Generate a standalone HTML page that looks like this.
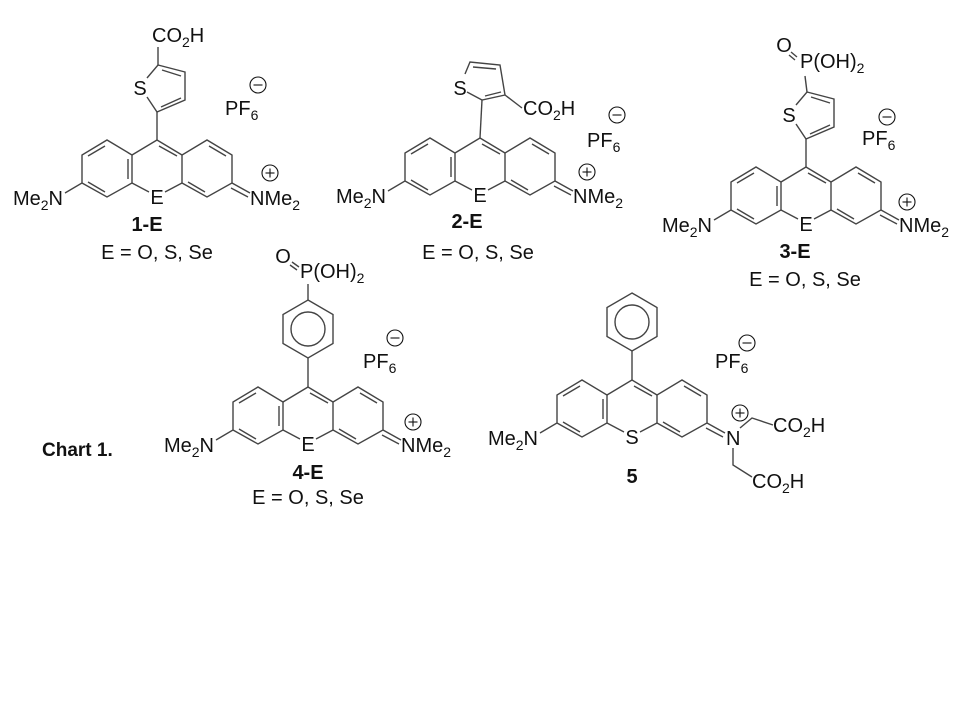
<!DOCTYPE html>
<html><head><meta charset="utf-8"><style>
html,body{margin:0;padding:0;background:#fff;}
svg{display:block;}
text{font-family:"Liberation Sans",Arial,sans-serif;font-size:20px;fill:#111;}
.b{font-weight:bold;}
.s{font-size:14px;}
line,polyline,polygon,circle.r{stroke:#444;stroke-width:1.4;fill:none;}
circle.c{stroke:#111;stroke-width:1.1;fill:none;}
.q{stroke:#111;stroke-width:1.1;}
</style></head><body>
<svg width="960" height="720" viewBox="0 0 960 720" xmlns="http://www.w3.org/2000/svg">
<defs>
<g id="core">
  <polyline points="-92,53 -75,43 -75,15 -50,0 -25,15 -25,43 -50,57 -75,43"/>
  <line x1="-25" y1="15" x2="0" y2="0"/>
  <line x1="0" y1="0" x2="25" y2="15"/>
  <polyline points="25,43 25,15 50,0 75,15 75,43 50,57 25,43"/>
  <line x1="-25" y1="43" x2="-8" y2="52"/>
  <line x1="25" y1="43" x2="8" y2="52"/>
  <line x1="-69" y1="16" x2="-52" y2="6"/>
  <line x1="-29" y1="19" x2="-29" y2="39"/>
  <line x1="-69" y1="42" x2="-52" y2="52"/>
  <line x1="2" y1="6" x2="20" y2="16"/>
  <line x1="52" y1="6" x2="69" y2="16"/>
  <line x1="31" y1="42" x2="48" y2="52"/>
  <line x1="75" y1="43" x2="93" y2="53"/>
  <line x1="74" y1="48" x2="91" y2="57"/>
  <text x="-94" y="65" text-anchor="end">Me<tspan class="s" dy="5">2</tspan><tspan dy="-5">N</tspan></text>
</g>
<g id="plus"><circle class="c" cx="0" cy="0" r="8"/><line class="q" x1="-4.5" y1="0" x2="4.5" y2="0"/><line class="q" x1="0" y1="-4.5" x2="0" y2="4.5"/></g>
<g id="minus"><circle class="c" cx="0" cy="0" r="8"/><line class="q" x1="-4.5" y1="0" x2="4.5" y2="0"/></g>
<g id="thio">
  <line x1="0" y1="0" x2="0" y2="-28"/>
  <polyline points="-10,-43 0,-28 28,-40 28,-68 1,-75 -10,-62"/>
  <line x1="4" y1="-33" x2="24" y2="-42"/>
  <line x1="5" y1="-70" x2="24" y2="-64"/>
  <text x="-17" y="-45" text-anchor="middle">S</text>
</g>
<g id="ph">
  <line x1="0" y1="0" x2="0" y2="-29"/>
  <polygon points="0,-87 25,-72.5 25,-43.5 0,-29 -25,-43.5 -25,-72.5"/>
  <circle class="r" cx="0" cy="-58" r="17"/>
</g>
</defs>

<!-- 1-E -->
<g transform="translate(157,140)">
  <use href="#core"/>
  <text x="0" y="64" text-anchor="middle">E</text>
  <text x="93" y="65">NMe<tspan class="s" dy="5">2</tspan></text>
  <use href="#plus" x="113" y="33"/>
  <use href="#thio"/>
  <line x1="1" y1="-75" x2="1" y2="-93"/>
  <text x="-5" y="-98">CO<tspan class="s" dy="5">2</tspan><tspan dy="-5">H</tspan></text>
  <text x="68" y="-25">PF<tspan class="s" dy="5">6</tspan></text>
  <use href="#minus" x="101" y="-55"/>
  <text class="b" x="-10" y="91" text-anchor="middle">1-E</text>
  <text x="0" y="119" text-anchor="middle">E = O, S, Se</text>
</g>

<!-- 2-E -->
<g transform="translate(480,138)">
  <use href="#core"/>
  <text x="0" y="64" text-anchor="middle">E</text>
  <text x="93" y="65">NMe<tspan class="s" dy="5">2</tspan></text>
  <use href="#plus" x="107" y="34"/>
  <line x1="0" y1="0" x2="2" y2="-38"/>
  <polyline points="-13,-46 2,-38 25,-43 20,-73 -10,-76 -15,-64"/>
  <line x1="5" y1="-42" x2="21" y2="-46"/>
  <line x1="-7" y1="-71" x2="16" y2="-69"/>
  <text x="-20" y="-43" text-anchor="middle">S</text>
  <line x1="25" y1="-43" x2="42" y2="-30"/>
  <text x="43" y="-23">CO<tspan class="s" dy="5">2</tspan><tspan dy="-5">H</tspan></text>
  <text x="107" y="9">PF<tspan class="s" dy="5">6</tspan></text>
  <use href="#minus" x="137" y="-23"/>
  <text class="b" x="-13" y="90" text-anchor="middle">2-E</text>
  <text x="-2" y="121" text-anchor="middle">E = O, S, Se</text>
</g>

<!-- 3-E -->
<g transform="translate(806,167)">
  <use href="#core"/>
  <text x="0" y="64" text-anchor="middle">E</text>
  <text x="93" y="65">NMe<tspan class="s" dy="5">2</tspan></text>
  <use href="#plus" x="101" y="35"/>
  <use href="#thio"/>
  <line x1="1" y1="-75" x2="-1" y2="-91"/>
  <text x="-6" y="-99">P(OH)<tspan class="s" dy="5">2</tspan></text>
  <text x="-22" y="-115" text-anchor="middle">O</text>
  <line x1="-15" y1="-115" x2="-9" y2="-110"/>
  <line x1="-17" y1="-112" x2="-11" y2="-107"/>
  <text x="56" y="-22">PF<tspan class="s" dy="5">6</tspan></text>
  <use href="#minus" x="81" y="-50"/>
  <text class="b" x="-11" y="91" text-anchor="middle">3-E</text>
  <text x="-1" y="119" text-anchor="middle">E = O, S, Se</text>
</g>

<!-- 4-E -->
<g transform="translate(308,387)">
  <use href="#core"/>
  <text x="0" y="64" text-anchor="middle">E</text>
  <text x="93" y="65">NMe<tspan class="s" dy="5">2</tspan></text>
  <use href="#plus" x="105" y="35"/>
  <use href="#ph"/>
  <line x1="0" y1="-87" x2="0" y2="-103"/>
  <text x="-8" y="-109">P(OH)<tspan class="s" dy="5">2</tspan></text>
  <text x="-25" y="-124" text-anchor="middle">O</text>
  <line x1="-16" y1="-125" x2="-9" y2="-120"/>
  <line x1="-18" y1="-122" x2="-11" y2="-117"/>
  <text x="55" y="-19">PF<tspan class="s" dy="5">6</tspan></text>
  <use href="#minus" x="87" y="-49"/>
  <text class="b" x="0" y="92" text-anchor="middle">4-E</text>
  <text x="0" y="117" text-anchor="middle">E = O, S, Se</text>
</g>

<text class="b" x="42" y="456" style="font-size:19px">Chart 1.</text>

<!-- 5 -->
<g transform="translate(632,380)">
  <use href="#core"/>
  <text x="0" y="64" text-anchor="middle">S</text>
  <text x="94" y="65">N</text>
  <use href="#plus" x="108" y="33"/>
  <polyline points="108,48 120,38 141,45"/>
  <text x="141" y="52">CO<tspan class="s" dy="5">2</tspan><tspan dy="-5">H</tspan></text>
  <polyline points="101,68 101,85 120,97"/>
  <text x="120" y="108">CO<tspan class="s" dy="5">2</tspan><tspan dy="-5">H</tspan></text>
  <use href="#ph"/>
  <text x="83" y="-12">PF<tspan class="s" dy="5">6</tspan></text>
  <use href="#minus" x="115" y="-37"/>
  <text class="b" x="0" y="103" text-anchor="middle">5</text>
</g>
</svg>
</body></html>
